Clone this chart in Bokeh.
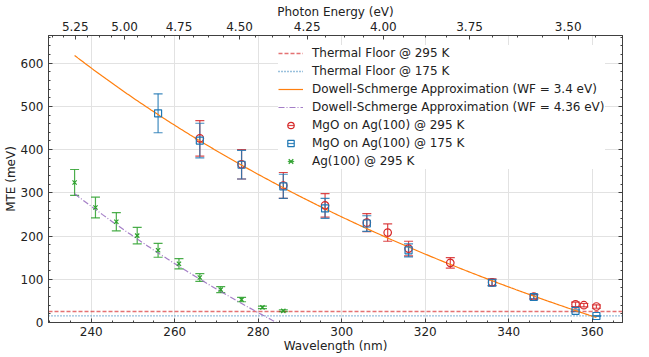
import math
import numpy as np
from bokeh.plotting import figure
from bokeh.models import (ColumnDataSource, Range1d, LinearAxis, FixedTicker, SingleIntervalTicker,
                          CustomJSTickFormatter, Whisker, TeeHead, Legend, LegendItem)
from bokeh.embed import file_html
from bokeh.resources import INLINE

HC = 1239.84  # eV*nm

# ---------------- data ----------------
ag_wl = [236, 241, 246, 251, 256, 261, 266, 271, 276, 281, 286]
ag_mte = [324, 266, 233, 201, 167, 136, 104, 76, 53, 35, 27]
ag_err = [30, 24, 21, 19, 16, 12, 9, 7, 5, 3, 2]

mgo295_wl = [266, 276, 286, 296, 306, 311, 316, 326, 336, 346, 356, 358, 361]
mgo295_mte = [426, 366, 317, 271, 231, 208, 171, 138, 93, 60, 42, 40, 37]
mgo295_err = [41, 34, 30, 27, 21, 20, 17, 12, 8, 5, 5, 4, 4]

mgo175_wl = [256, 266, 276, 286, 296, 306, 316, 336, 346, 356, 361]
mgo175_mte = [484, 421, 365, 315, 264, 229, 167, 92, 59, 27, 15]
mgo175_err = [45, 40, 33, 28, 23, 18, 15, 7, 5, 2, 1]

thermal_temps = [295, 175]
thermal_floor = [25.4, 15.1]
work_functions = [3.4, 4.36]

energy_ticks = [5.25, 5.00, 4.75, 4.50, 4.25, 4.00, 3.75, 3.50]

X_START, X_END = 229.75, 367.25
Y_START, Y_END = 0, 664

RED, BLUE, GREEN = "#d62728", "#1f77b4", "#2ca02c"
ORANGE, PURPLE = "#ff7f0e", "#9467bd"
TXT = "#222222"
AX = "#404040"
FONT = "DejaVu Sans"

p = figure(width=649, height=357, x_range=Range1d(X_START, X_END), y_range=Range1d(Y_START, Y_END),
           output_backend="svg", toolbar_location=None,
           min_border_left=45, min_border_right=27, min_border_top=35, min_border_bottom=35,
           x_axis_label="Wavelength (nm)", y_axis_label="MTE (meV)")
p.background_fill_color = "white"
p.border_fill_color = "white"
p.outline_line_color = AX
p.outline_line_width = 1

p.xaxis.ticker = SingleIntervalTicker(interval=20, num_minor_ticks=4)
p.yaxis.ticker = SingleIntervalTicker(interval=100, num_minor_ticks=5)
p.grid.grid_line_color = "#e2e2e2"
p.grid.grid_line_width = 1


def style_axis(ax, standoff=5):
    ax.axis_line_color = AX
    ax.major_tick_in = 4
    ax.major_tick_out = 0
    ax.minor_tick_in = 2
    ax.minor_tick_out = 0
    ax.major_tick_line_color = AX
    ax.minor_tick_line_color = AX
    ax.major_label_text_font = FONT
    ax.major_label_text_font_size = "12px"
    ax.major_label_text_color = TXT
    ax.major_label_standoff = standoff
    ax.axis_label_text_font = FONT
    ax.axis_label_text_font_size = "12px"
    ax.axis_label_text_font_style = "normal"
    ax.axis_label_text_color = TXT
    ax.axis_label_standoff = 0


style_axis(p.below[0], 4)
style_axis(p.left[0], 5)

# right mirror axis (ticks only, labels not drawn)
right_ax = LinearAxis(ticker=SingleIntervalTicker(interval=100, num_minor_ticks=5))
style_axis(right_ax, 0)
right_ax.major_label_text_font_size = "1px"
right_ax.major_label_text_color = None
p.add_layout(right_ax, "right")

# top photon energy axis
e_step = 0.0625
energy_minor = []
e = 3.375
while e < 5.45:
    if all(abs(e - m) > 1e-6 for m in energy_ticks):
        energy_minor.append(HC / e)
    e += e_step
top_ax = LinearAxis(ticker=FixedTicker(ticks=[HC / e for e in energy_ticks], minor_ticks=energy_minor),
                    formatter=CustomJSTickFormatter(code="return (1239.84 / tick).toFixed(2);"),
                    axis_label="Photon Energy (eV)")
style_axis(top_ax, 5)
p.add_layout(top_ax, "above")

# thermal floors
floor_styles = [(RED, "4 2", 1.6, 0.65), (BLUE, "1 2", 1.3, 0.9)]
floor_r = []
for val, (c, dash, lw, a) in zip(thermal_floor, floor_styles):
    r = p.line(x=[X_START, X_END], y=[val, val], line_color=c, line_dash=dash, line_width=lw, line_alpha=a)
    floor_r.append(r)

# Dowell-Schmerge curves
ds_wl = np.linspace(ag_wl[0], mgo295_wl[-1], 300)
ds_styles = [(ORANGE, "solid", 1.2, 1.0), (PURPLE, "6 2 1 2", 1.2, 0.85)]
ds_r = []
for wf, (c, dash, lw, a) in zip(work_functions, ds_styles):
    mte = (HC / ds_wl - wf) / 3.0 * 1000.0
    r = p.line(x=ds_wl, y=mte, line_color=c, line_dash=dash, line_width=lw, line_alpha=a)
    ds_r.append(r)


def err_series(wl, mte, err, color, marker, size, lw=1.2):
    src = ColumnDataSource(dict(x=wl, y=mte,
                                upper=[m + e for m, e in zip(mte, err)],
                                lower=[m - e for m, e in zip(mte, err)]))
    w = Whisker(source=src, base="x", upper="upper", lower="lower", dimension="height",
                line_color=color, line_width=lw, line_alpha=0.85,
                upper_head=TeeHead(size=9, line_color=color, line_width=lw, line_alpha=0.85),
                lower_head=TeeHead(size=9, line_color=color, line_width=lw, line_alpha=0.85))
    p.add_layout(w)
    stem = p.scatter(x="x", y="y", source=src, marker="dash", angle=math.pi / 2, size=0,
                     line_color=color, line_width=lw, line_alpha=0.85)
    mk = p.scatter(x="x", y="y", source=src, marker=marker, size=size,
                   line_color=color, fill_color=None, line_width=1.2)
    return [stem, mk]


mgo295_r = err_series(mgo295_wl, mgo295_mte, mgo295_err, RED, "circle", 7.5)
mgo175_r = err_series(mgo175_wl, mgo175_mte, mgo175_err, BLUE, "square", 7)
ag_r = err_series(ag_wl, ag_mte, ag_err, GREEN, "x", 6)

items = [
    LegendItem(label=f"Thermal Floor @ {thermal_temps[0]} K", renderers=[floor_r[0]]),
    LegendItem(label=f"Thermal Floor @ {thermal_temps[1]} K", renderers=[floor_r[1]]),
    LegendItem(label=f"Dowell-Schmerge Approximation (WF = {work_functions[0]} eV)", renderers=[ds_r[0]]),
    LegendItem(label=f"Dowell-Schmerge Approximation (WF = {work_functions[1]} eV)", renderers=[ds_r[1]]),
    LegendItem(label="MgO on Ag(100) @ 295 K", renderers=mgo295_r),
    LegendItem(label="MgO on Ag(100) @ 175 K", renderers=mgo175_r),
    LegendItem(label="Ag(100) @ 295 K", renderers=ag_r),
]
legend = Legend(items=items, location=(230, 153), padding=5, spacing=2,
                glyph_width=25, glyph_height=16, label_height=16, label_standoff=9,
                label_text_font=FONT, label_text_font_size="12px", label_text_color=TXT,
                border_line_color=None, background_fill_color="white", background_fill_alpha=1.0)
p.add_layout(legend)

open("out.html", "w").write(file_html(p, INLINE))
